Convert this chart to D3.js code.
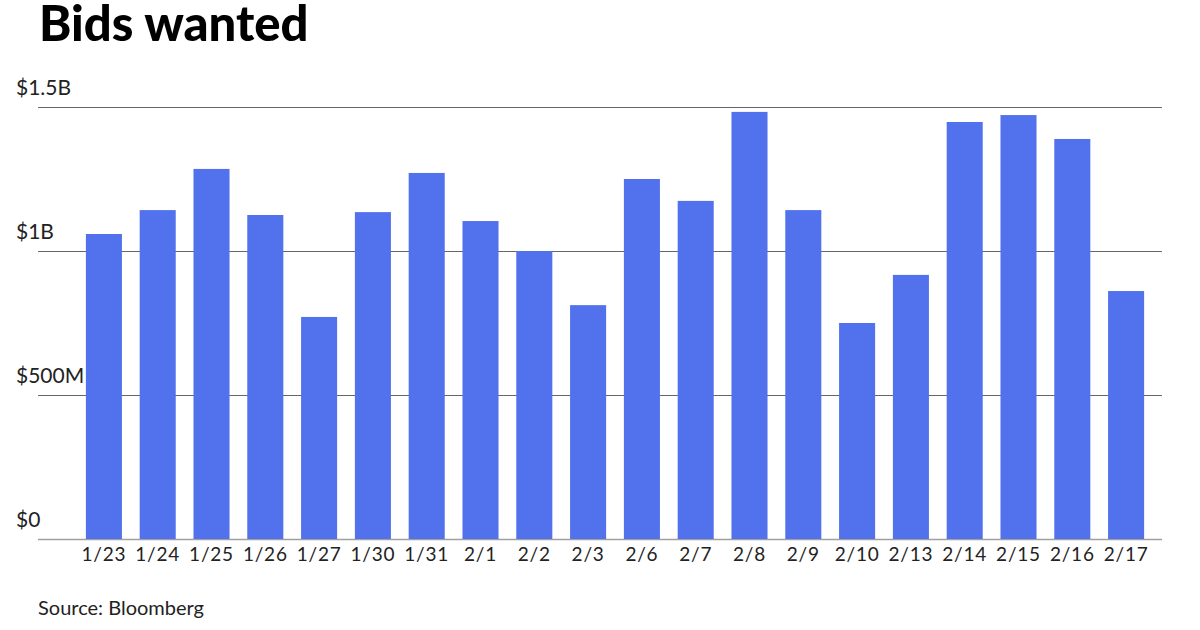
<!DOCTYPE html>
<html>
<head>
<meta charset="utf-8">
<script src="https://cdn.jsdelivr.net/npm/d3@7"></script>
<style>
  body { margin: 0; background: #fff; }
  svg { font-family: Lato, sans-serif; }
</style>
</head>
<body>
<svg width="1200" height="630"></svg>
<script>
// bid lists per trading day, in $ millions
const dates = ['1/23', '1/24', '1/25', '1/26', '1/27', '1/30', '1/31', '2/1', '2/2', '2/3',
  '2/6', '2/7', '2/8', '2/9', '2/10', '2/13', '2/14', '2/15', '2/16', '2/17'];
const bids = [1059, 1142, 1285, 1125, 771, 1135, 1271, 1104, 1000, 812,
  1250, 1174, 1483, 1142, 750, 917, 1448, 1472, 1389, 861];
const yTicks = [0, 500, 1000, 1500];
const yTickLabels = ['$0', '$500M', '$1B', '$1.5B'];

const svg = d3.select('svg');

const gridLeft = 38, gridRight = 1162;
const plotTop = 107, plotBottom = 539;

const xScale = d3.scaleBand()
  .domain(dates)
  .range([77, 1153])
  .paddingInner(0.33)
  .paddingOuter(0.165);

const yScale = d3.scaleLinear()
  .domain([0, 1500])
  .range([plotBottom, plotTop]);

svg.append('text')
  .attr('x', 39)
  .attr('y', 41)
  .attr('font-size', 49)
  .attr('font-weight', 900)
  .attr('fill', '#000')
  .text('Bids wanted');

// gridlines + labels sitting above them
const grid = svg.append('g');
grid.selectAll('line').data(yTicks)
  .enter().append('line')
    .attr('x1', gridLeft)
    .attr('x2', gridRight)
    .attr('y1', d => yScale(d) + 0.5)
    .attr('y2', d => yScale(d) + 0.5)
    .attr('stroke', d => d === 0 ? '#a0a0a0' : '#666')
    .attr('stroke-width', d => d === 0 ? 1.5 : 1);

grid.selectAll('text').data(yTicks)
  .enter().append('text')
    .attr('x', 16)
    .attr('y', d => yScale(d) - 12)
    .attr('font-size', 21)
    .attr('fill', '#222')
    .text((d, i) => yTickLabels[i]);

svg.append('g').selectAll('rect').data(bids)
  .enter().append('rect')
    .attr('x', (d, i) => xScale(dates[i]))
    .attr('y', d => yScale(d))
    .attr('width', xScale.bandwidth())
    .attr('height', d => plotBottom - yScale(d))
    .attr('fill', '#5271ed');

const xAxis = d3.axisBottom(xScale).tickSize(0).tickPadding(9);
const xAxisGroup = svg.append('g')
  .attr('transform', `translate(0, ${plotBottom})`)
  .call(xAxis);
xAxisGroup.select('.domain').remove();
xAxisGroup.selectAll('text')
  .attr('font-family', 'Lato, sans-serif')
  .attr('font-size', 19)
  .attr('letter-spacing', 0.8)
  .attr('fill', '#222');

svg.append('text')
  .attr('x', 38)
  .attr('y', 615)
  .attr('font-size', 20)
  .attr('fill', '#222')
  .text('Source: Bloomberg');
</script>
</body>
</html>
